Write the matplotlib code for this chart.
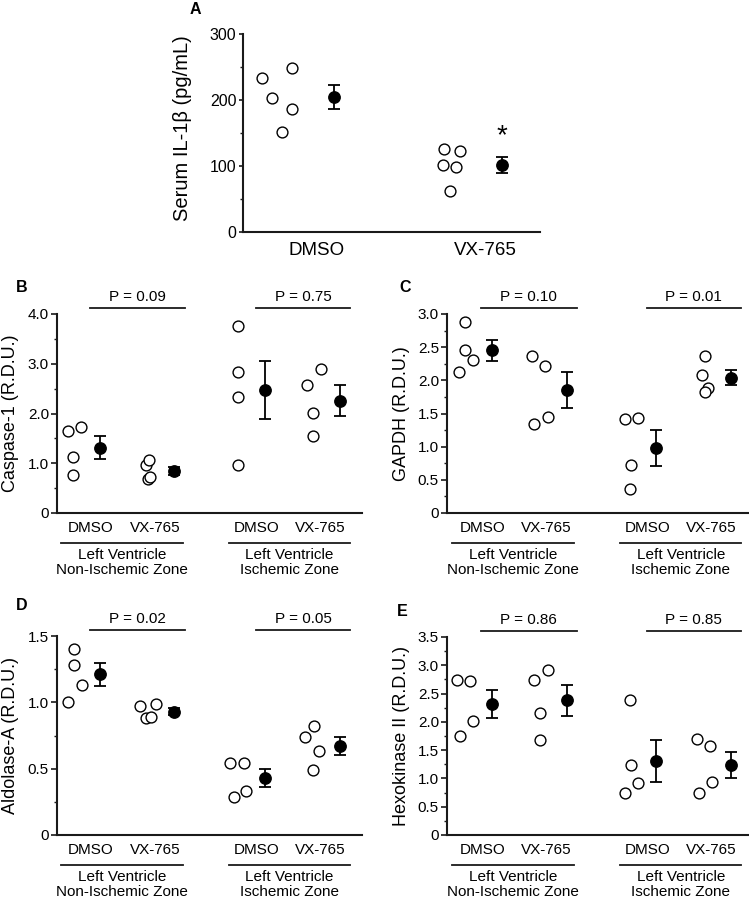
import matplotlib
matplotlib.use('Agg')
import matplotlib.pyplot as plt
from matplotlib.transforms import blended_transform_factory
from matplotlib.ticker import MultipleLocator, FuncFormatter

plt.rcParams['font.family'] = ['Liberation Sans', 'DejaVu Sans']

# ---------------- data ----------------
# Panel A: serum IL-1beta (pg/mL)
a_categories = ['DMSO', 'VX-765']
a_dmso = [234, 203, 249, 187, 151]
a_vx = [126, 123, 101, 98, 62]
a_means = [205, 102]
a_sem = [18, 12]

cat_labels = ['DMSO', 'VX-765', 'DMSO', 'VX-765']
zone_labels = ['Left Ventricle\nNon-Ischemic Zone', 'Left Ventricle\nIschemic Zone']

# Panel B: Caspase-1 (groups: DMSO-NIZ, VX-NIZ, DMSO-IZ, VX-IZ)
b_points = [[1.64, 1.72, 1.13, 0.77], [0.96, 1.06, 0.69, 0.72],
            [3.76, 2.84, 2.33, 0.96], [2.58, 2.90, 2.02, 1.55]]
b_means = [1.31, 0.85, 2.48, 2.26]
b_sem = [0.23, 0.08, 0.585, 0.305]
b_p = ['P = 0.09', 'P = 0.75']

# Panel C: GAPDH
c_points = [[2.13, 2.88, 2.46, 2.31], [2.37, 2.22, 1.34, 1.44],
            [1.42, 1.43, 0.72, 0.36], [2.36, 2.08, 1.88, 1.83]]
c_means = [2.45, 1.85, 0.98, 2.04]
c_sem = [0.165, 0.27, 0.27, 0.115]
c_p = ['P = 0.10', 'P = 0.01']

# Panel D: Aldolase-A
d_points = [[1.005, 1.40, 1.28, 1.13], [0.97, 0.88, 0.89, 0.985],
            [0.545, 0.545, 0.29, 0.33], [0.74, 0.82, 0.63, 0.49]]
d_means = [1.21, 0.93, 0.43, 0.67]
d_sem = [0.085, 0.025, 0.07, 0.07]
d_p = ['P = 0.02', 'P = 0.05']

# Panel E: Hexokinase II
e_points = [[2.735, 2.72, 1.75, 2.02], [2.735, 2.91, 2.165, 1.68],
            [2.38, 1.23, 0.92, 0.735], [1.69, 1.57, 0.935, 0.735]]
e_means = [2.32, 2.38, 1.31, 1.235]
e_sem = [0.25, 0.28, 0.365, 0.23]
e_p = ['P = 0.86', 'P = 0.85']

# ---------------- layout (horizontal placement of scatter) ----------------
a_xpos = [[0.674, 0.734, 0.851, 0.851, 0.791], [1.757, 1.851, 1.751, 1.827, 1.791]]
a_mean_x = [1.10, 2.10]

b_xpos = [[0.33, 0.73, 0.49, 0.49], [2.67, 2.77, 2.73, 2.80],
          [5.43, 5.43, 5.43, 5.43], [7.50, 7.92, 7.68, 7.68]]
c_xpos = [[0.36, 0.54, 0.54, 0.79], [2.54, 2.94, 2.62, 3.02],
          [5.33, 5.74, 5.51, 5.49], [7.74, 7.65, 7.82, 7.75]]
d_xpos = [[0.33, 0.52, 0.52, 0.74], [2.50, 2.66, 2.82, 2.97],
          [5.20, 5.61, 5.30, 5.68], [7.44, 7.70, 7.85, 7.68]]
e_xpos = [[0.30, 0.70, 0.38, 0.79], [2.62, 3.02, 2.78, 2.78],
          [5.49, 5.51, 5.74, 5.33], [7.51, 7.88, 7.96, 7.56]]

lay_left = dict(xlim=(0, 9.15), lab=[1.02, 2.96, 6.0, 7.9], mean_x=[1.28, 3.52, 6.25, 8.48],
                under=[(0.13, 3.77), (5.16, 8.78)], pline=[(0.98, 3.83), (5.98, 8.78)],
                ptext=[2.40, 7.38])
lay_right = dict(xlim=(0, 9.03), lab=[1.08, 2.98, 6.03, 7.93], mean_x=[1.35, 3.59, 6.28, 8.53],
                 under=[(0.16, 3.80), (5.20, 8.83)], pline=[(1.03, 3.90), (6.0, 8.83)],
                 ptext=[2.45, 7.40])

W, H = 749, 900
fig = plt.figure(figsize=(W / 100, H / 100), dpi=100)

SP = '#1a1a1a'


def ax_at(l, r, t, b):
    return fig.add_axes([l / W, 1 - b / H, (r - l) / W, (b - t) / H])


def style(ax, major_len=4.3, minor_len=2.2):
    for s in ['top', 'right']:
        ax.spines[s].set_visible(False)
    for s in ['left', 'bottom']:
        ax.spines[s].set_linewidth(1.5)
        ax.spines[s].set_color(SP)
    ax.tick_params(axis='y', which='major', direction='out', length=major_len, width=1.2,
                   color=SP, pad=1.5)
    ax.tick_params(axis='y', which='minor', direction='out', length=minor_len, width=1.0, color=SP)
    ax.tick_params(axis='x', which='both', length=0)


def fmt(v, pos):
    return '0' if abs(v) < 1e-9 else f'{v:.1f}'


def draw_points(ax, xs, ys):
    ax.plot(xs, ys, 'o', mfc='white', mec='black', ms=7.8, mew=1.0, clip_on=False, zorder=3)


def draw_mean(ax, x, m, s):
    ax.errorbar(x, m, yerr=s, fmt='o', color='black', ms=8.2, capsize=4.6,
                elinewidth=1.3, capthick=1.3, clip_on=False, zorder=4)


# ---------------- Panel A ----------------
axA = ax_at(243, 540, 34, 232)
style(axA, major_len=3.2, minor_len=2.0)
axA.set_xlim(0.559, 2.328)
axA.set_ylim(0, 300)
axA.yaxis.set_major_locator(MultipleLocator(100))
axA.yaxis.set_minor_locator(MultipleLocator(50))
axA.tick_params(axis='y', labelsize=11.5)
axA.set_xticks([1, 2])
axA.set_xticklabels(a_categories, fontsize=13.5)
axA.tick_params(axis='x', pad=7)
for xs, ys in zip(a_xpos, [a_dmso, a_vx]):
    draw_points(axA, xs, ys)
draw_mean(axA, a_mean_x, a_means, a_sem)
axA.text(a_mean_x[1], 145, '*', ha='center', va='center', fontsize=20)
fig.text(183 / W, 1 - 128 / H, 'Serum IL-1β (pg/mL)', rotation=90, ha='center', va='center',
         fontsize=14.5)
fig.text(195 / W, 1 - 9 / H, 'A', ha='center', va='center', fontsize=11.5, fontweight='bold')


def panel(box, lay, points, xpos, means, sem, ymax, major, minor, ylabel, ylab_x, pvals, letter, letter_xy):
    l, r, t, b = box
    ax = ax_at(l, r, t, b)
    style(ax)
    ax.set_xlim(*lay['xlim'])
    ax.set_ylim(0, ymax)
    ax.yaxis.set_major_locator(MultipleLocator(major))
    ax.yaxis.set_minor_locator(MultipleLocator(minor))
    ax.yaxis.set_major_formatter(FuncFormatter(fmt))
    ax.tick_params(axis='y', labelsize=11)
    ax.set_xticks(lay['lab'])
    ax.set_xticklabels(cat_labels, fontsize=11)
    ax.tick_params(axis='x', pad=6)
    for xs, ys in zip(xpos, points):
        draw_points(ax, xs, ys)
    draw_mean(ax, lay['mean_x'], means, sem)
    hpx = b - t
    tr = blended_transform_factory(ax.transData, ax.transAxes)
    # group underlines and zone labels
    for (x0, x1), zl in zip(lay['under'], zone_labels):
        ax.plot([x0, x1], [-30 / hpx, -30 / hpx], color=SP, lw=1.3, transform=tr, clip_on=False)
        ax.text((x0 + x1) / 2, -35 / hpx, zl, transform=tr, ha='center', va='top', fontsize=11,
                linespacing=1.05)
    # p-value lines
    for (x0, x1), xt, pv in zip(lay['pline'], lay['ptext'], pvals):
        ax.plot([x0, x1], [1 + 6 / hpx, 1 + 6 / hpx], color=SP, lw=1.3, transform=tr, clip_on=False)
        ax.text(xt, 1 + 10 / hpx, pv, transform=tr, ha='center', va='bottom', fontsize=11)
    fig.text(ylab_x / W, 1 - (t + b) / 2 / H, ylabel, rotation=90, ha='center', va='center',
             fontsize=13)
    fig.text(letter_xy[0] / W, 1 - letter_xy[1] / H, letter, ha='center', va='center',
             fontsize=11.5, fontweight='bold')
    return ax


panel((57, 362, 314, 513), lay_left, b_points, b_xpos, b_means, b_sem, 4.0, 1.0, 0.5,
      'Caspase-1 (R.D.U.)', 11, b_p, 'B', (22, 288))
panel((447, 748, 314, 513), lay_right, c_points, c_xpos, c_means, c_sem, 3.0, 0.5, 0.25,
      'GAPDH (R.D.U.)', 401, c_p, 'C', (405, 287))
panel((57, 362, 636, 835), lay_left, d_points, d_xpos, d_means, d_sem, 1.5, 0.5, 0.25,
      'Aldolase-A (R.D.U.)', 11, d_p, 'D', (22, 605))
panel((447, 748, 637, 835), lay_right, e_points, e_xpos, e_means, e_sem, 3.5, 0.5, 0.25,
      'Hexokinase II (R.D.U.)', 401, e_p, 'E', (402, 611))

fig.savefig('out.png', dpi=100, facecolor='white')
